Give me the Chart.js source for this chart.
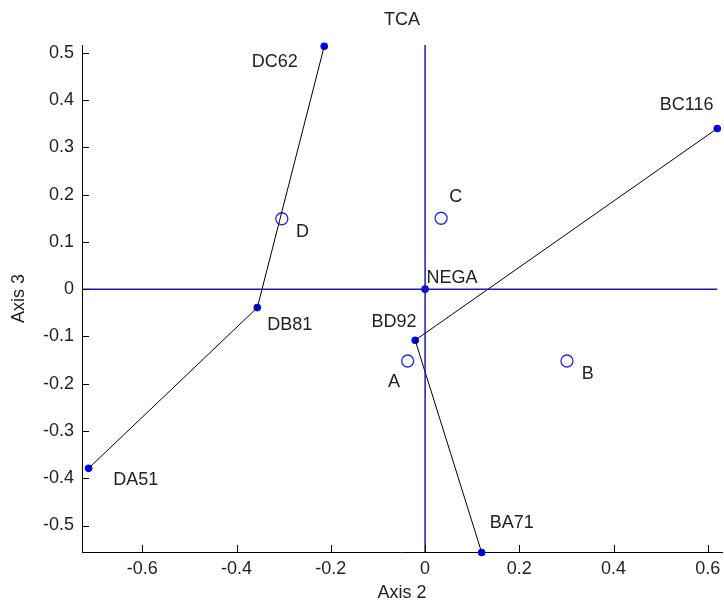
<!DOCTYPE html>
<html><head><meta charset="utf-8">
<script src="https://cdn.jsdelivr.net/npm/chart.js@4.4.0/dist/chart.umd.min.js"></script>
<style>html,body{margin:0;padding:0;background:#fff;} #wrap{width:724px;height:608px;position:relative;}</style>
</head><body><div id="wrap"><canvas id="c"></canvas></div>
<script>
const chartTitle = 'TCA';
const xAxisTitle = 'Axis 2';
const yAxisTitle = 'Axis 3';
const xTicks = [-0.6, -0.4, -0.2, 0, 0.2, 0.4, 0.6];
const xTickLabels = ['-0.6', '-0.4', '-0.2', '0', '0.2', '0.4', '0.6'];
const yTicks = [-0.5, -0.4, -0.3, -0.2, -0.1, 0, 0.1, 0.2, 0.3, 0.4, 0.5];
const yTickLabels = ['-0.5', '-0.4', '-0.3', '-0.2', '-0.1', '0', '0.1', '0.2', '0.3', '0.4', '0.5'];
const xLimits = [-0.728, 0.63];
const yLimits = [-0.556, 0.5165];
const refLineX = [-0.728, 0.62];
const refLineY = [-0.556, 0.5165];

const sampleNames = ['NEGA', 'DA51', 'DB81', 'DC62', 'BA71', 'BD92', 'BC116'];
const sampleX = [0, -0.714, -0.356, -0.214, 0.120, -0.021, 0.620];
const sampleY = [0, -0.379, -0.039, 0.514, -0.557, -0.108, 0.340];
const sampleLabelX = [0.057, -0.614, -0.287, -0.319, 0.184, -0.066, 0.555];
const sampleLabelY = [0.023, -0.404, -0.076, 0.480, -0.495, -0.070, 0.389];

const groupNames = ['A', 'B', 'C', 'D'];
const groupX = [-0.037, 0.301, 0.034, -0.304];
const groupY = [-0.152, -0.152, 0.150, 0.149];
const groupLabelX = [-0.066, 0.345, 0.065, -0.260];
const groupLabelY = [-0.197, -0.180, 0.195, 0.121];

const pathD = ['DC62', 'DB81', 'DA51'];
const pathB = ['BC116', 'BD92', 'BA71'];

const FONT = '"Liberation Sans", Arial, sans-serif';
const TEXT = '#222222';
const AXIS_BLUE = '#1c1ca8';
const MARK_BLUE = '#0000f0';
const RIGHT_GAP = 2;

function pathPoints(names) {
  return names.map(n => { const i = sampleNames.indexOf(n); return {x: sampleX[i], y: sampleY[i]}; });
}

const areaFixPlugin = {
  id: 'areaFix',
  afterLayout(chart) {
    const x = chart.scales.x;
    const target = chart.width - RIGHT_GAP;
    chart.chartArea.right = target;
    chart.chartArea.width = target - chart.chartArea.left;
    x.right = target;
    x.width = target - x.left;
    x.configure();
  }
};

const labelPlugin = {
  id: 'labels',
  afterDatasetsDraw(chart) {
    const {ctx, scales: {x, y}, chartArea} = chart;
    ctx.save();
    ctx.strokeStyle = '#000';
    ctx.lineWidth = 1;
    ctx.beginPath();
    xTicks.forEach(v => { const px = Math.round(x.getPixelForValue(v)) + 0.5; ctx.moveTo(px, chartArea.bottom); ctx.lineTo(px, chartArea.bottom - 7); });
    yTicks.forEach(v => { const py = Math.round(y.getPixelForValue(v)) + 0.5; ctx.moveTo(chartArea.left, py); ctx.lineTo(chartArea.left + 7, py); });
    ctx.stroke();
    ctx.fillStyle = TEXT;
    ctx.font = '18px ' + FONT;
    ctx.textAlign = 'center';
    ctx.textBaseline = 'middle';
    sampleNames.forEach((n, i) => ctx.fillText(n, x.getPixelForValue(sampleLabelX[i]), y.getPixelForValue(sampleLabelY[i])));
    groupNames.forEach((n, i) => ctx.fillText(n, x.getPixelForValue(groupLabelX[i]), y.getPixelForValue(groupLabelY[i])));
    ctx.fillText(chartTitle, (chartArea.left + chartArea.right) / 2, 20);
    ctx.restore();
  }
};

new Chart(document.getElementById('c'), {
  type: 'scatter',
  data: {
    datasets: [
      {data: [{x: refLineX[0], y: 0}, {x: refLineX[1], y: 0}], showLine: true, borderColor: AXIS_BLUE, borderWidth: 1.5, pointRadius: 0, clip: false},
      {data: [{x: 0, y: refLineY[0]}, {x: 0, y: refLineY[1]}], showLine: true, borderColor: AXIS_BLUE, borderWidth: 1.5, pointRadius: 0, clip: false},
      {data: pathPoints(pathD), showLine: true, borderColor: '#000', borderWidth: 1, pointRadius: 0, clip: false},
      {data: pathPoints(pathB), showLine: true, borderColor: '#000', borderWidth: 1, pointRadius: 0, clip: false},
      {data: groupX.map((v, i) => ({x: v, y: groupY[i]})), pointRadius: 6, pointBorderWidth: 1.3, pointBorderColor: '#2a2ad0', pointBackgroundColor: 'rgba(255,255,255,0)', clip: false},
      {data: sampleX.map((v, i) => ({x: v, y: sampleY[i]})), pointRadius: 3.8, pointStyle: 'circle', pointBorderWidth: 0, pointBackgroundColor: MARK_BLUE, pointBorderColor: MARK_BLUE, clip: false}
    ]
  },
  options: {
    responsive: true,
    maintainAspectRatio: false,
    animation: false,
    events: [],
    layout: {padding: {top: 45, right: RIGHT_GAP, left: 0, bottom: 0}},
    plugins: {legend: {display: false}, tooltip: {enabled: false}, title: {display: false}},
    scales: {
      x: {
        type: 'linear', min: xLimits[0], max: xLimits[1],
        afterBuildTicks: s => { s.ticks = xTicks.map(v => ({value: v})); },
        afterFit: s => { s.height = 56; s.paddingLeft = 0; s.paddingRight = 0; },
        ticks: {color: TEXT, font: {family: FONT, size: 18}, padding: 6, callback: (v, i) => xTickLabels[i], maxRotation: 0},
        grid: {display: true, drawOnChartArea: false, drawTicks: false},
        border: {display: true, color: '#000', width: 1},
        title: {display: true, text: xAxisTitle, color: TEXT, font: {family: FONT, size: 18}, padding: {top: 0, bottom: 4}}
      },
      y: {
        type: 'linear', min: yLimits[0], max: yLimits[1],
        afterBuildTicks: s => { s.ticks = yTicks.map(v => ({value: v})); },
        afterFit: s => { s.width = 82; s.paddingTop = 0; s.paddingBottom = 0; },
        ticks: {color: TEXT, font: {family: FONT, size: 18}, padding: 8, callback: (v, i) => yTickLabels[i]},
        grid: {display: true, drawOnChartArea: false, drawTicks: false},
        border: {display: true, color: '#000', width: 1},
        title: {display: true, text: yAxisTitle, color: TEXT, font: {family: FONT, size: 18}, padding: {top: 8, bottom: 8}}
      }
    }
  },
  plugins: [areaFixPlugin, labelPlugin]
});
</script></body></html>
